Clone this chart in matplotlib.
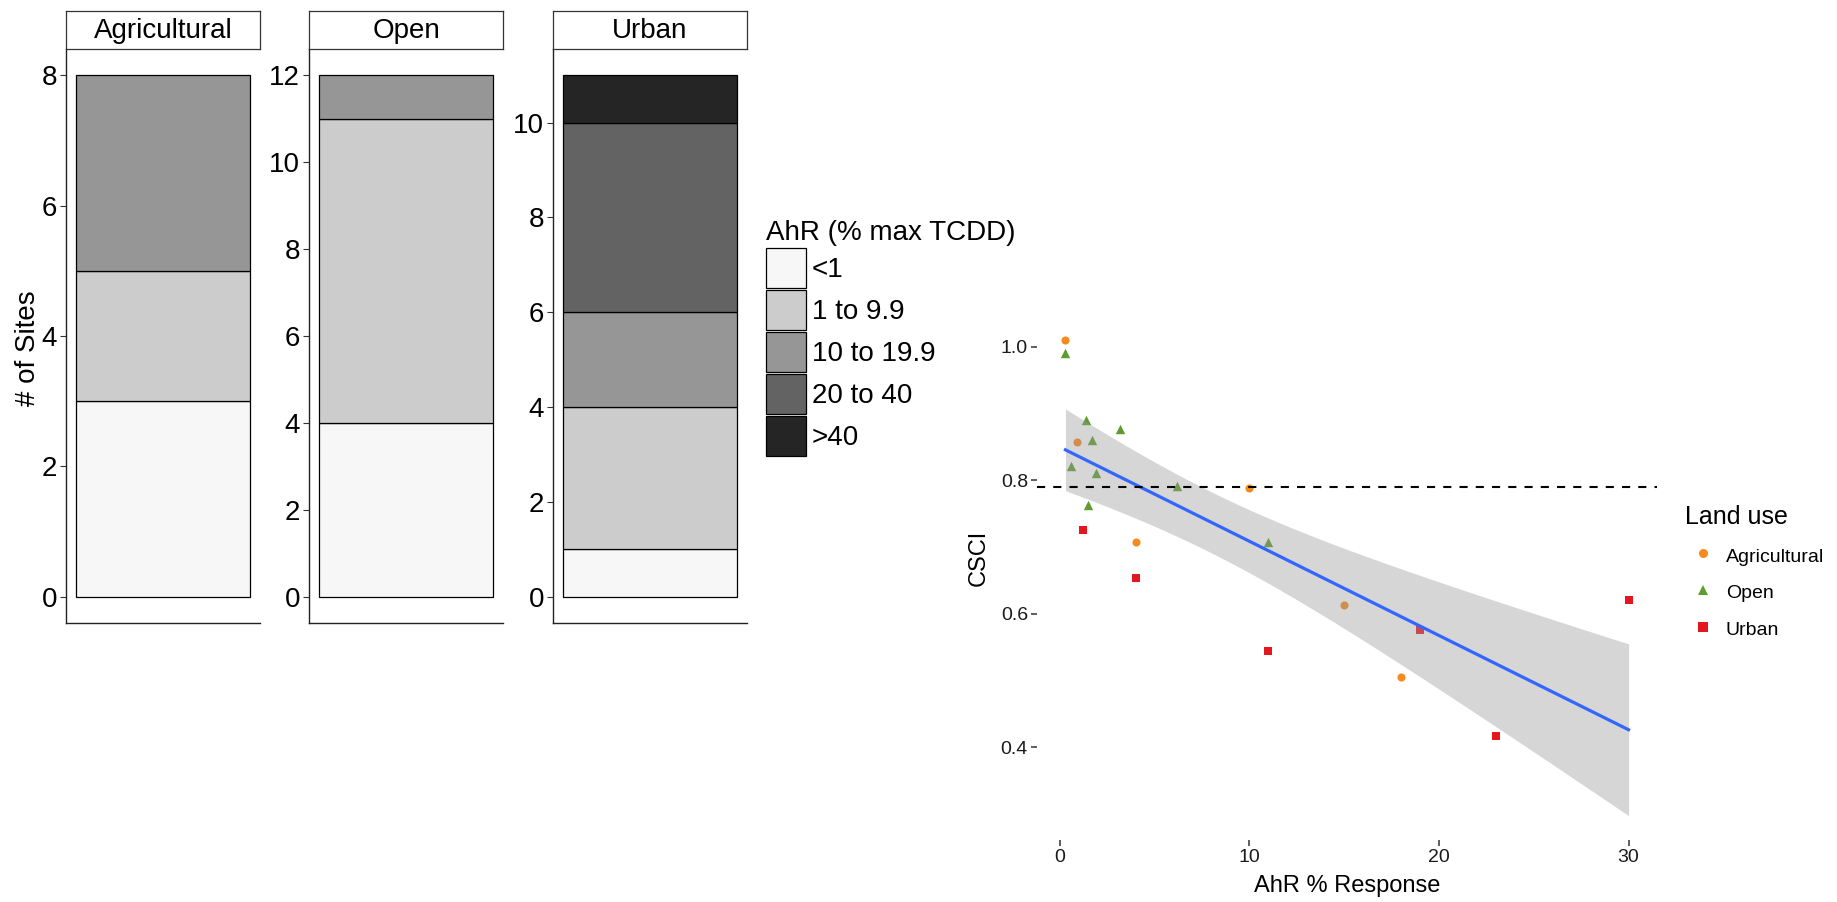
import numpy as np
import matplotlib.pyplot as plt
from matplotlib.patches import Patch
from matplotlib.lines import Line2D

plt.rcParams['font.family'] = ['Liberation Sans', 'DejaVu Sans']

W, H = 1837, 902

# ---- data: stacked bars (# of sites per AhR class) ----
land_uses = ['Agricultural', 'Open', 'Urban']
ahr_classes = ['<1', '1 to 9.9', '10 to 19.9', '20 to 40', '>40']
class_colors = ['#f7f7f7', '#cccccc', '#969696', '#636363', '#252525']
ag_counts = [3, 2, 3, 0, 0]
open_counts = [4, 7, 1, 0, 0]
urban_counts = [1, 3, 2, 4, 1]

# ---- data: CSCI vs AhR response ----
ag_ahr = [0.3, 0.9, 4.0, 10.0, 15.0, 18.0]
ag_csci = [1.01, 0.857, 0.707, 0.789, 0.613, 0.505]
open_ahr = [0.3, 0.6, 1.4, 1.5, 1.7, 1.9, 3.2, 6.2, 11.0]
open_csci = [0.99, 0.821, 0.89, 0.763, 0.86, 0.811, 0.877, 0.792, 0.707]
urban_ahr = [1.2, 4.0, 11.0, 19.0, 23.0, 30.0]
urban_csci = [0.725, 0.653, 0.544, 0.575, 0.4175, 0.62]
csci_threshold = 0.79

point_colors = ['#F58A1F', '#5E9C2E', '#E4171F']
point_markers = ['o', '^', 's']
point_sizes = [34, 46, 38]


def fbox(x0, y0, x1, y1):
    # pixel box (top-left origin) -> figure fraction
    return [x0 / W, 1 - y1 / H, (x1 - x0) / W, (y1 - y0) / H]


fig = plt.figure(figsize=(W / 100, H / 100), dpi=100)

# ---- faceted stacked bars ----
panel_left = [66, 309, 553]
for name, counts, x0 in zip(land_uses, [ag_counts, open_counts, urban_counts], panel_left):
    ax = fig.add_axes(fbox(x0, 49, x0 + 194, 623))
    bottom = 0
    for cnt, col in zip(counts, class_colors):
        if cnt:
            ax.bar(0, cnt, width=0.9, bottom=bottom, color=col,
                   edgecolor='black', linewidth=0.9)
        bottom += cnt
    total = sum(counts)
    ax.set_xlim(-0.5, 0.5)
    ax.set_ylim(-0.05 * total, 1.05 * total)
    ax.set_yticks(range(0, total + 1, 2))
    ax.set_xticks([])
    for s in ['top', 'right']:
        ax.spines[s].set_visible(False)
    for s in ['left', 'bottom']:
        ax.spines[s].set_linewidth(1.0)
        ax.spines[s].set_color('#222222')
    ax.tick_params(axis='y', labelsize=20, length=4.5, width=0.8,
                   color='#333333', pad=2)

    strip = fig.add_axes(fbox(x0, 11, x0 + 194, 49))
    strip.set_xticks([])
    strip.set_yticks([])
    for s in strip.spines.values():
        s.set_linewidth(0.9)
        s.set_color('#333333')
    strip.text(0.5, 0.47, name, ha='center', va='center', fontsize=20,
               transform=strip.transAxes)

fig.text(28 / W, 1 - 348 / H, '# of Sites', rotation=90, ha='center',
         va='center', fontsize=20)

bar_handles = [Patch(facecolor=c, edgecolor='black', linewidth=0.9, label=l)
               for c, l in zip(class_colors, ahr_classes)]
fig.legend(handles=bar_handles, title='AhR (% max TCDD)', loc='upper left',
           bbox_to_anchor=(766 / W, 1 - 220 / H), frameon=False, fontsize=20,
           title_fontsize=20, handlelength=1.44, handleheight=1.84,
           handletextpad=0.2, labelspacing=0.07, borderpad=0,
           borderaxespad=0, alignment='left')

# ---- scatter with linear fit ----
ax = fig.add_axes(fbox(1037, 316, 1657, 840))
groups = [(ag_ahr, ag_csci), (open_ahr, open_csci), (urban_ahr, urban_csci)]
for (gx, gy), col, mk, sz in zip(groups, point_colors, point_markers, point_sizes):
    ax.scatter(gx, gy, s=sz, marker=mk, color=col, linewidths=0, zorder=2)

x_all = np.array(ag_ahr + open_ahr + urban_ahr)
y_all = np.array(ag_csci + open_csci + urban_csci)
n = len(x_all)
slope, intercept = np.polyfit(x_all, y_all, 1)
resid = y_all - (intercept + slope * x_all)
s_err = np.sqrt(np.sum(resid ** 2) / (n - 2))
sxx = np.sum((x_all - x_all.mean()) ** 2)
t_crit = 2.093  # t(0.975, df=19)
xs = np.linspace(x_all.min(), x_all.max(), 80)
ys = intercept + slope * xs
half = t_crit * s_err * np.sqrt(1 / n + (xs - x_all.mean()) ** 2 / sxx)
ax.fill_between(xs, ys - half, ys + half, color='#999999', alpha=0.4,
                linewidth=0, zorder=3)
ax.plot(xs, ys, color='#3366FF', linewidth=2.3, zorder=4)
ax.axhline(csci_threshold, color='black', linewidth=1.5,
           linestyle=(0, (3.9, 3.9)), zorder=5)

ax.set_xlim(-1.2, 31.5)
ax.set_ylim(0.261, 1.046)
ax.set_xticks([0, 10, 20, 30])
ax.set_yticks([0.4, 0.6, 0.8, 1.0])
ax.set_yticklabels(['0.4', '0.6', '0.8', '1.0'])
for s in ax.spines.values():
    s.set_visible(False)
ax.tick_params(labelsize=14, length=4.5, width=1.1, color='#333333',
               labelcolor='#1a1a1a', pad=2)
ax.set_xlabel('AhR % Response', fontsize=17)
ax.xaxis.label.set_va('center')
ax.xaxis.set_label_coords(0.5, (840 - 886) / 524)
ax.set_ylabel('CSCI', fontsize=17)
ax.yaxis.label.set_va('center')
ax.yaxis.set_label_coords((979 - 1037) / 620, (840 - 558) / 524)

pt_handles = [Line2D([], [], linestyle='none', marker=mk, markersize=6.5,
                     markerfacecolor=col, markeredgewidth=0, label=name)
              for mk, col, name in zip(point_markers, point_colors, land_uses)]
fig.legend(handles=pt_handles, title='Land use', loc='upper left',
           bbox_to_anchor=(1685 / W, 1 - 505 / H), frameon=False, fontsize=14,
           title_fontsize=18, handlelength=1.8, handleheight=1.3,
           handletextpad=0.3, labelspacing=0.8, borderpad=0,
           borderaxespad=0, alignment='left')

fig.savefig('out.png', dpi=100, facecolor='white')
